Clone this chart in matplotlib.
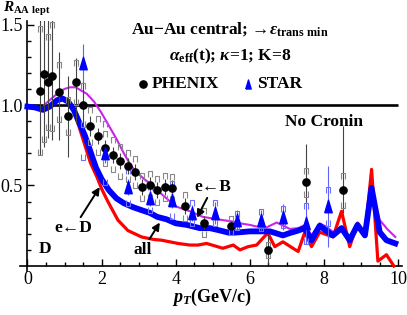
import numpy as np
import matplotlib
matplotlib.use('Agg')
from matplotlib import pyplot as plt
from matplotlib.path import Path
from matplotlib.ticker import MultipleLocator, FixedLocator

plt.rcParams['font.family'] = ['Liberation Serif', 'DejaVu Serif']
plt.rcParams['mathtext.fontset'] = 'custom'
plt.rcParams['mathtext.rm'] = 'Liberation Serif:bold'
plt.rcParams['mathtext.it'] = 'Liberation Serif:italic:bold'
plt.rcParams['mathtext.bf'] = 'Liberation Serif:bold'

# theory curves
blue_pt = [0, 0.2, 0.42, 0.6, 0.8, 0.95, 1.1, 1.25, 1.4, 1.55, 1.7, 1.85, 2.0, 2.2, 2.4, 2.6,
           2.85, 3.1, 3.3, 3.5, 3.75, 4.0, 4.3, 4.65, 4.92, 5.2, 5.46, 5.75, 6.0, 6.25, 6.54,
           6.89, 7.08, 7.3, 7.48, 7.66, 7.88, 8.05, 8.24, 8.47, 8.69, 8.9, 9.1, 9.28, 9.5,
           9.68, 9.92]
blue_raa = [0.99, 0.985, 0.97, 0.99, 1.03, 1.04, 1.02, 0.97, 0.89, 0.81, 0.71, 0.61, 0.54,
            0.47, 0.42, 0.39, 0.365, 0.345, 0.33, 0.305, 0.29, 0.265, 0.255, 0.235, 0.235,
            0.22, 0.205, 0.21, 0.215, 0.215, 0.215, 0.19, 0.205, 0.22, 0.235, 0.16, 0.25,
            0.22, 0.19, 0.235, 0.16, 0.255, 0.19, 0.485, 0.21, 0.16, 0.14]

red_pt = [0, 0.2, 0.42, 0.6, 0.8, 0.95, 1.1, 1.25, 1.4, 1.55, 1.7, 1.88, 2.0, 2.17, 2.44,
          2.71, 3.08, 3.4, 3.62, 4.06, 4.38, 4.6, 4.83, 5.05, 5.27, 5.55, 5.73, 5.95, 6.18,
          6.48, 6.67, 6.89, 7.16, 7.3, 7.48, 7.66, 7.88, 8.24, 8.47, 8.69, 8.9, 9.1, 9.28,
          9.45, 9.68, 9.88]
red_raa = [0.99, 0.985, 0.97, 0.99, 1.03, 1.04, 1.02, 0.96, 0.86, 0.75, 0.64, 0.55, 0.48,
           0.40, 0.285, 0.22, 0.18, 0.165, 0.16, 0.14, 0.13, 0.13, 0.14, 0.125, 0.11, 0.13,
           0.10, 0.12, 0.13, 0.205, 0.12, 0.15, 0.11, 0.09, 0.21, 0.12, 0.21, 0.18, 0.34,
           0.12, 0.265, 0.19, 0.60, 0.03, 0.07, 0.0]

mag_pt = [0.45, 0.6, 0.8, 1.0, 1.15, 1.3, 1.45, 1.6, 1.8, 2.0, 2.2, 2.4, 2.6, 2.8, 3.0, 3.2,
          3.4, 3.6, 3.8, 4.0, 4.38, 4.73, 5.0, 5.27, 5.55, 5.73, 6.0, 6.18, 6.45, 6.72, 6.9,
          7.08, 7.3, 7.48, 7.66, 7.88, 8.05, 8.25, 8.47, 8.69, 8.9, 9.1, 9.28, 9.5, 9.7, 9.92]
mag_raa = [1.0, 1.03, 1.07, 1.10, 1.11, 1.11, 1.09, 1.07, 1.02, 0.95, 0.87, 0.79, 0.70, 0.62,
           0.57, 0.53, 0.50, 0.45, 0.41, 0.37, 0.34, 0.305, 0.295, 0.285, 0.275, 0.265,
           0.255, 0.245, 0.24, 0.27, 0.25, 0.23, 0.235, 0.255, 0.19, 0.265, 0.245, 0.21,
           0.245, 0.15, 0.27, 0.20, 0.48, 0.285, 0.23, 0.18]

# PHENIX data
phenix_pt = [0.35, 0.45, 0.55, 0.65, 0.85, 1.1, 1.3, 1.5, 1.7, 1.9, 2.1, 2.3, 2.5, 2.7, 2.9,
             3.1, 3.3, 3.5, 3.7, 3.9, 4.25, 4.75, 5.5, 6.5, 7.5, 8.5]
phenix_raa = [1.09, 1.19, 1.145, 1.18, 1.08, 0.93, 1.14, 1.0, 0.87, 0.81, 0.73, 0.69, 0.65,
              0.62, 0.585, 0.49, 0.50, 0.47, 0.49, 0.485, 0.37, 0.27, 0.25, 0.10, 0.52, 0.47]
phenix_err_lo = [0.40, 0.45, 0.35, 0.40, 0.30, 0.25, 0.25, 0.15, 0.06, 0.05, 0.05, 0.05, 0.05,
                 0.05, 0.05, 0.05, 0.05, 0.05, 0.05, 0.05, 0.05, 0.04, 0.03, 0.09, 0.13, 0.14]
phenix_err_hi = [0.45, 0.40, 0.40, 0.40, 0.25, 0.25, 0.15, 0.15, 0.06, 0.05, 0.05, 0.05, 0.05,
                 0.05, 0.05, 0.05, 0.05, 0.05, 0.05, 0.05, 0.05, 0.04, 0.03, 0.09, 0.24, 0.40]
phenix_sys = [0.38, 0.40, 0.28, 0.32, 0.17, 0.10, 0.12, 0.12, 0.10, 0.10, 0.09, 0.09, 0.09,
              0.08, 0.08, 0.07, 0.07, 0.07, 0.07, 0.07, 0.07, 0.07, 0.04, 0.03, 0.07, 0.09]

# STAR data
star_pt = [1.5, 2.1, 2.7, 3.3, 3.9, 4.45, 5.05, 5.65, 6.3, 6.9, 7.5, 8.1]
star_raa = [1.26, 0.70, 0.49, 0.42, 0.41, 0.33, 0.33, 0.285, 0.285, 0.305, 0.265, 0.37]
star_err = [0.12, 0.06, 0.05, 0.05, 0.05, 0.05, 0.07, 0.06, 0.06, 0.08, 0.13, 0.25]
star_sys = [0.58, 0.18, 0.10, 0.07, 0.10, 0.06, 0.06, 0.04, 0.05, 0.05, 0.11, 0.10]

fig = plt.figure(figsize=(4.07, 3.15), dpi=100)
ax = fig.add_axes([20 / 407, 1 - 270.8 / 315, 382 / 407, 249.5 / 315])
ax.set_xlim(-0.2, 10.1)
ax.set_ylim(-0.03, 1.52)

for s in ['top', 'right']:
    ax.spines[s].set_visible(False)
ax.spines['left'].set_position(('data', 0))
ax.spines['bottom'].set_position(('data', 0))
for s in ['left', 'bottom']:
    ax.spines[s].set_linewidth(1.2)

ax.xaxis.set_major_locator(FixedLocator([0, 2, 4, 6, 8, 10]))
ax.xaxis.set_minor_locator(MultipleLocator(0.5))
ax.yaxis.set_major_locator(FixedLocator([0.5, 1.0, 1.5]))
ax.yaxis.set_minor_locator(FixedLocator(np.arange(0.1, 1.51, 0.1)))
ax.set_xticklabels(['0', '2', '4', '6', '8', '10'], fontfamily='Liberation Serif')
ax.set_yticklabels(['0.5', '1.0', '1.5'], fontfamily='Liberation Serif')
ax.tick_params(which='both', direction='in', width=1.0, labelsize=13)
ax.tick_params(which='major', length=5)
ax.tick_params(which='minor', length=3)

# reference line
ax.hlines(1.0, 0, 10, color='black', lw=1.9, zorder=2)

# curves
ax.plot(mag_pt, mag_raa, color='#cc22ee', lw=1.5, zorder=3)
ax.plot(red_pt, red_raa, color='#ff0000', lw=2.3, zorder=3)
ax.plot(blue_pt, blue_raa, color='#0000ff', lw=4.2, zorder=4)

# systematic brackets
top_br = Path([(-0.6, -1), (-0.6, 1), (0.6, 1), (0.6, -1)])
bot_br = Path([(-0.6, 1), (-0.6, -1), (0.6, -1), (0.6, 1)])

ph_pt = np.array(phenix_pt)
ph_y = np.array(phenix_raa)
ph_sys = np.array(phenix_sys)
ax.errorbar(ph_pt, ph_y, yerr=[phenix_err_lo, phenix_err_hi], fmt='none',
            ecolor='#444444', elinewidth=0.8, zorder=5)
ax.plot(ph_pt, ph_y + ph_sys, ls='none', marker=top_br, ms=5, mfc='none',
        mec='#888888', mew=0.8, zorder=5)
ax.plot(ph_pt, ph_y - ph_sys, ls='none', marker=bot_br, ms=5, mfc='none',
        mec='#888888', mew=0.8, zorder=5)
ax.plot(ph_pt, ph_y, ls='none', marker='o', ms=5.2, color='black', zorder=7)

st_pt = np.array(star_pt)
st_y = np.array(star_raa)
st_sys = np.array(star_sys)
tri = Path([(-0.6, -1), (0.6, -1), (0, 1), (-0.6, -1)])
ax.errorbar(st_pt, st_y, yerr=star_err, fmt='none', ecolor='#6060ff',
            elinewidth=0.8, zorder=5)
ax.plot(st_pt, st_y + st_sys, ls='none', marker=top_br, ms=5, mfc='none',
        mec='#7070ff', mew=0.8, zorder=5)
ax.plot(st_pt, st_y - st_sys, ls='none', marker=bot_br, ms=5, mfc='none',
        mec='#7070ff', mew=0.8, zorder=5)
ax.plot(st_pt, st_y, ls='none', marker=tri, ms=9, color='#0000ff', zorder=7)

# texts
bold = dict(fontsize=12.5, fontweight='bold')
ax.text(5.46, 1.47, r'Au$-$Au central; →$\epsilon_{\rm trans\ min}$', ha='center',
        va='center', **bold)
ax.text(5.46, 1.30, r'$\alpha_{\rm eff}$(t); $\kappa$=1; K=8', ha='center', va='center', **bold)
ax.plot([3.11], [1.13], ls='none', marker='o', ms=5.2, color='black', clip_on=False)
ax.text(3.36, 1.13, 'PHENIX', ha='left', va='center', **bold)
ax.plot([5.94], [1.13], ls='none', marker=tri, ms=6.5, color='#0000ff', clip_on=False)
ax.text(6.19, 1.13, 'STAR', ha='left', va='center', **bold)
ax.text(8.0, 0.895, 'No Cronin', ha='center', va='center', **bold)
ax.text(0.47, 0.105, 'D', ha='center', va='center', **bold)

arrow = dict(arrowstyle='-|>', color='black', lw=1.4, mutation_scale=11,
             shrinkA=0, shrinkB=0)
ax.annotate('e←D', xy=(1.95, 0.49), xytext=(1.25, 0.236), ha='center', va='center',
            arrowprops=arrow, zorder=8, **bold)
ax.annotate('all', xy=(3.57, 0.27), xytext=(3.11, 0.10), ha='center', va='center',
            arrowprops=arrow, zorder=8, **bold)
ax.annotate('e←B', xy=(4.57, 0.30), xytext=(5.0, 0.49), ha='center', va='center',
            arrowprops=arrow, zorder=8, **bold)

fig.text(3 / 407, 1 - 0.5 / 315, r'$R_{\rm AA\ lept}$', ha='left', va='top',
         fontsize=11, fontweight='bold')
fig.text(212 / 407, 1 - 297 / 315, r'$p_T$(GeV/c)', ha='center', va='center',
         fontsize=13, fontweight='bold')

fig.savefig('out.png', dpi=100)
